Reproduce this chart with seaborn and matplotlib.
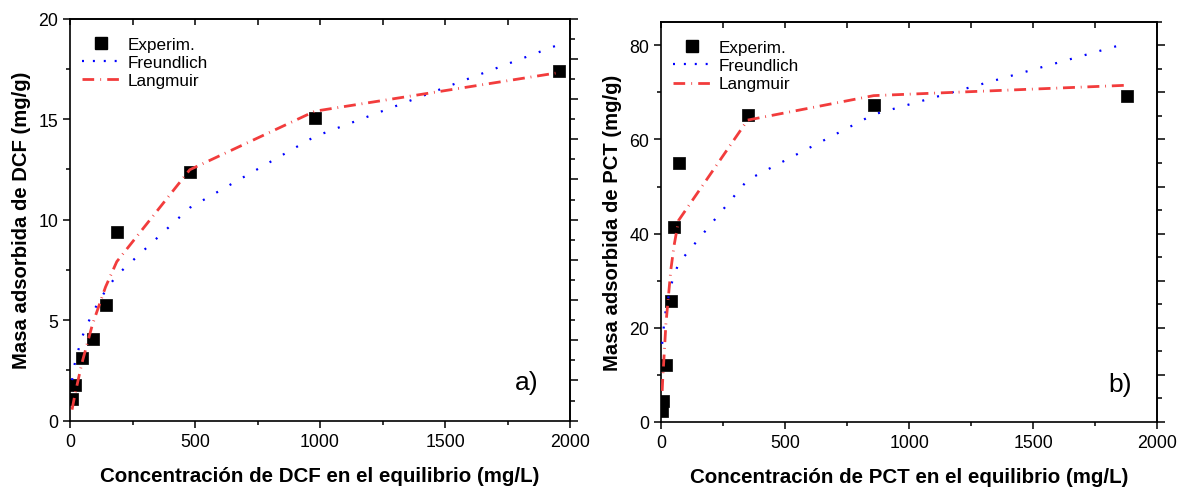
import matplotlib
matplotlib.use("Agg")
import matplotlib.pyplot as plt
from matplotlib.ticker import MultipleLocator
from matplotlib.lines import Line2D
import seaborn as sns
import pandas as pd

# Diclofenac (DCF) isotherm: equilibrium concentration (mg/L) vs adsorbed mass (mg/g)
dcf_ce = [8, 20, 47, 90, 142, 187, 479, 979, 1955]
dcf_qe = [1.07, 1.77, 3.10, 4.04, 5.74, 9.36, 12.35, 15.07, 17.40]
dcf_freundlich = [2.02, 2.92, 4.13, 5.38, 6.47, 7.23, 10.59, 14.13, 18.70]
dcf_langmuir = [0.55, 1.32, 2.84, 4.80, 6.65, 7.91, 12.48, 15.39, 17.31]

# Paracetamol (PCT) isotherm
pct_ce = [5, 7, 20, 40, 53, 71, 349, 857, 1876]
pct_qe = [2.3, 4.5, 12.0, 25.7, 41.3, 54.9, 65.1, 67.4, 69.2]
pct_freundlich = [16.6, 18.2, 24.0, 28.9, 31.1, 33.7, 51.4, 65.3, 80.4]
pct_langmuir = [6.6, 8.9, 20.8, 32.4, 37.5, 42.8, 64.1, 69.3, 71.5]

legend_labels = ["Experim.", "Freundlich", "Langmuir"]

sns.set_theme(style="ticks")
plt.rcParams["font.family"] = ["Liberation Sans", "DejaVu Sans"]
plt.rcParams["text.color"] = "black"
plt.rcParams["axes.labelcolor"] = "black"
plt.rcParams["xtick.color"] = "black"
plt.rcParams["ytick.color"] = "black"
plt.rcParams["axes.edgecolor"] = "black"

RED = "#f23c3c"
BLUE = "#0000ff"
DOTTED = (0, (0.9, 6.0))
DASHDOT = (0, (4.3, 2.1, 0.3, 2.1))

fig = plt.figure(figsize=(11.79, 4.89), dpi=100)
ax_a = fig.add_axes([0.0594, 0.1376, 0.4241, 0.8225])
ax_b = fig.add_axes([0.5606, 0.1350, 0.4210, 0.8186])


def draw_panel(ax, ce, qe, fr, la, ymax, ymaj, ymin, rmaj, rmin, xlabel, ylabel, tag, tagpos):
    df = pd.DataFrame({"Ce": ce, "qe": qe, "F": fr, "L": la})
    sns.scatterplot(data=df, x="Ce", y="qe", ax=ax, marker="s", s=64,
                    color="black", edgecolor="black", linewidth=0.5, zorder=2,
                    legend=False)
    sns.lineplot(data=df, x="Ce", y="F", ax=ax, estimator=None, color=BLUE,
                 linewidth=1.6, linestyle=DOTTED, zorder=3, legend=False)
    sns.lineplot(data=df, x="Ce", y="L", ax=ax, estimator=None, color=RED,
                 linewidth=2.0, linestyle=DASHDOT, zorder=4, legend=False)

    ax.set_xlim(0, 2000)
    ax.set_ylim(0, ymax)
    ax.xaxis.set_major_locator(MultipleLocator(500))
    ax.xaxis.set_minor_locator(MultipleLocator(250))
    ax.yaxis.set_major_locator(MultipleLocator(ymaj))
    ax.yaxis.set_minor_locator(MultipleLocator(ymin))
    ax.tick_params(axis="both", which="major", direction="out", length=5,
                   width=1.1, labelsize=12.8, color="black", labelcolor="black")
    ax.tick_params(axis="both", which="minor", direction="out", length=3,
                   width=1.1, color="black")
    for sp in ax.spines.values():
        sp.set_visible(True)
        sp.set_linewidth(1.2)
        sp.set_color("black")

    # top axis: inward ticks, no labels
    top = ax.secondary_xaxis("top")
    top.xaxis.set_major_locator(MultipleLocator(500))
    top.xaxis.set_minor_locator(MultipleLocator(250))
    top.tick_params(which="both", direction="in", length=4, width=1.1, labeltop=False)
    top.spines["top"].set_linewidth(1.2)

    # right axis: outward ticks, no labels
    right = ax.secondary_yaxis("right")
    right.yaxis.set_major_locator(MultipleLocator(rmaj))
    right.yaxis.set_minor_locator(MultipleLocator(rmin))
    right.tick_params(which="major", direction="out", length=6, width=1.1, labelright=False)
    right.tick_params(which="minor", direction="out", length=3.5, width=1.1)
    right.spines["right"].set_linewidth(1.2)

    ax.set_xlabel(xlabel, fontsize=14.8, fontweight="bold", labelpad=12)
    ax.set_ylabel(ylabel, fontsize=14.6, fontweight="bold", labelpad=5)

    handles = [
        Line2D([], [], marker="s", linestyle="none", color="black", markersize=8.5),
        Line2D([], [], color=BLUE, linewidth=1.6, linestyle=(0, (0.9, 4.0))),
        Line2D([], [], color=RED, linewidth=2.0, linestyle=(0, (4.2, 2.2, 0.3, 2.2))),
    ]
    ax.legend(handles, legend_labels, loc="upper left", frameon=False,
              fontsize=12.3, handlelength=2.2, handletextpad=0.45,
              labelspacing=0.2, borderaxespad=0.3, bbox_to_anchor=(0.0, 0.985))
    ax.text(tagpos[0], tagpos[1], tag, transform=ax.transAxes, fontsize=19,
            ha="center", va="center")


draw_panel(ax_a, dcf_ce, dcf_qe, dcf_freundlich, dcf_langmuir, 20, 5, 2.5, 2, 1,
           "Concentración de DCF en el equilibrio (mg/L)",
           "Masa adsorbida de DCF (mg/g)", "a)", (0.914, 0.096))
draw_panel(ax_b, pct_ce, pct_qe, pct_freundlich, pct_langmuir, 85, 20, 10, 10, 5,
           "Concentración de PCT en el equilibrio (mg/L)",
           "Masa adsorbida de PCT (mg/g)", "b)", (0.925, 0.095))

fig.savefig("out.png", dpi=100)
